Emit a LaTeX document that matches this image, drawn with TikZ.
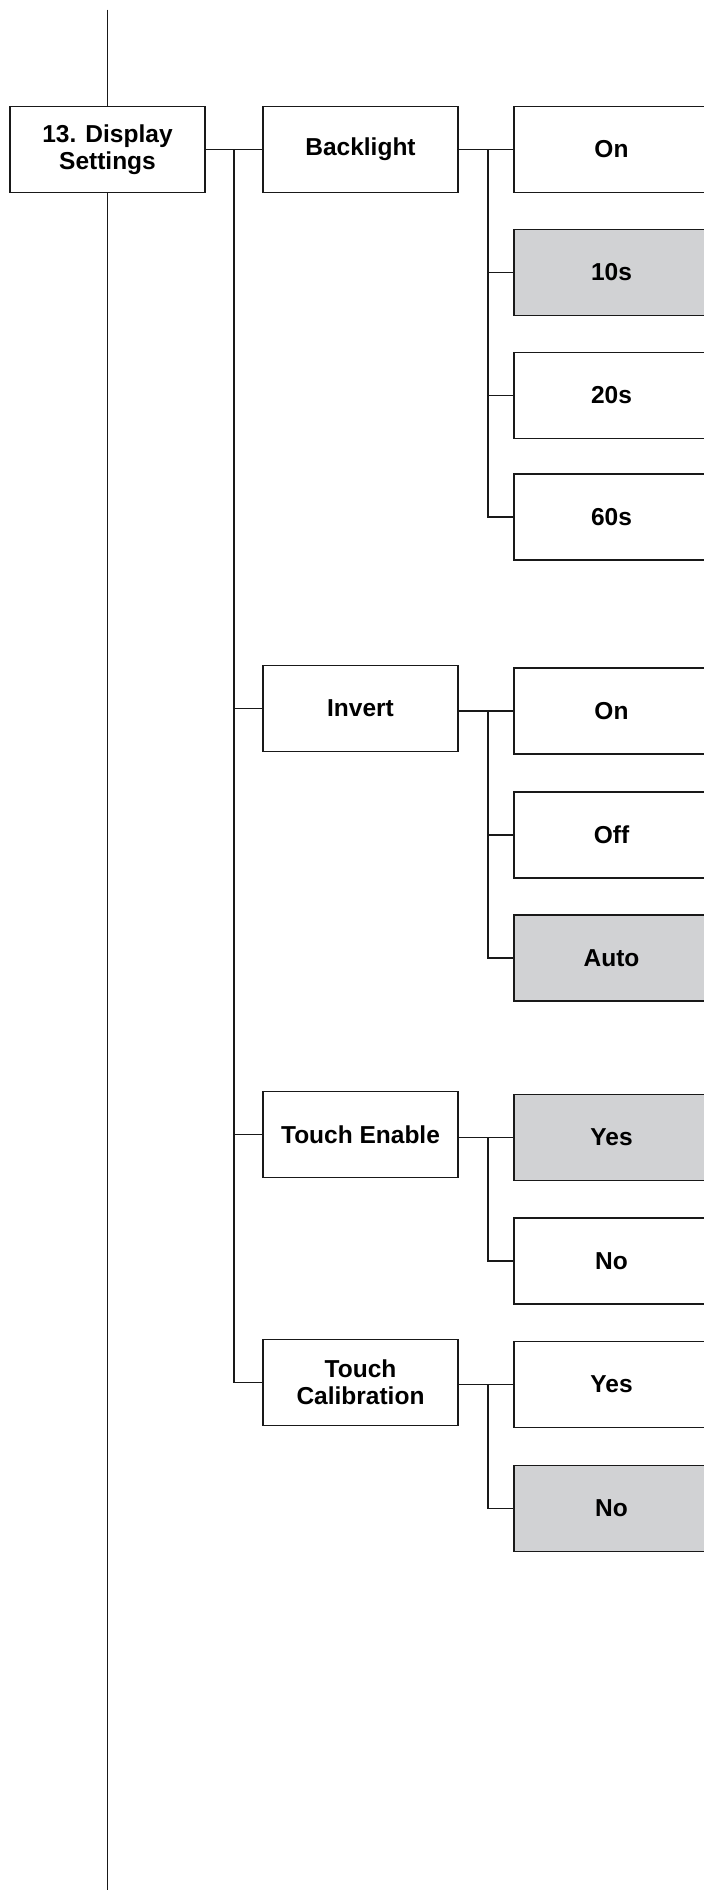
\documentclass[tikz,border=0pt]{standalone}
\usepackage{fontspec}
\setmainfont{Liberation Sans}
\usetikzlibrary{positioning}
\definecolor{selgray}{HTML}{D1D2D4}
\tikzset{
  menubox/.style={draw=black!90, line width=1.7pt, rectangle, minimum width=195pt,
    minimum height=86pt, inner sep=0pt, align=center,
    font=\bfseries\fontsize{24.5}{27}\selectfont},
  selbox/.style={menubox, fill=selgray},
  link/.style={draw=black!90, line width=1.7pt}
}
\begin{document}
\begin{tikzpicture}[x=1pt,y=1pt]
\useasboundingbox (0,0) rectangle (704,-1890);
% main menu entry
\node [menubox] (disp) at (107.5,-149.5) {13. Display\\Settings};
\coordinate (top) at (107.5,-9.5);
\coordinate (bot) at (107.5,-1890);
\draw [link] (top) -- (disp.north);
\draw [link] (disp.south) -- (bot);
% sub menus
\node [menubox] (back) at (360.5,-149.5) {Backlight};
\node [menubox] (inv) at (360.5,-708.5) {Invert};
\node [menubox] (tena) at (360.5,-1134.5) {Touch Enable};
\node [menubox] (tcal) at (360.5,-1382.5) {Touch\\Calibration};
% backlight options
\node [menubox] (bon) at (611.5,-149.5) {On};
\node [selbox] (b10) at (611.5,-272.5) {10s};
\node [menubox] (b20) at (611.5,-395.5) {20s};
\node [menubox] (b60) at (611.5,-517) {60s};
% invert options
\node [menubox] (ion) at (611.5,-711) {On};
\node [menubox] (ioff) at (611.5,-835) {Off};
\node [selbox] (iauto) at (611.5,-958) {Auto};
% touch enable options
\node [selbox] (tyes) at (611.5,-1137.5) {Yes};
\node [menubox] (tno) at (611.5,-1261) {No};
% touch calibration options
\node [menubox] (cyes) at (611.5,-1384.5) {Yes};
\node [selbox] (cno) at (611.5,-1508.5) {No};
% trunk lines
\coordinate (ta) at (234,0);
\coordinate (tb) at (488,0);
\draw [link] (disp.east) -- (back.west);
\draw [link] (ta |- disp.east) -- (ta |- tcal.west) -- (tcal.west);
\draw [link] (ta |- inv.west) -- (inv.west);
\draw [link] (ta |- tena.west) -- (tena.west);
% backlight branches
\draw [link] (back.east |- bon.west) -- (bon.west);
\draw [link] (tb |- bon.west) -- (tb |- b60.west) -- (b60.west);
\draw [link] (tb |- b10.west) -- (b10.west);
\draw [link] (tb |- b20.west) -- (b20.west);
% invert branches
\draw [link] (inv.east |- ion.west) -- (ion.west);
\draw [link] (tb |- ion.west) -- (tb |- iauto.west) -- (iauto.west);
\draw [link] (tb |- ioff.west) -- (ioff.west);
% touch enable branches
\draw [link] (tena.east |- tyes.west) -- (tyes.west);
\draw [link] (tb |- tyes.west) -- (tb |- tno.west) -- (tno.west);
% touch calibration branches
\draw [link] (tcal.east |- cyes.west) -- (cyes.west);
\draw [link] (tb |- cyes.west) -- (tb |- cno.west) -- (cno.west);
\end{tikzpicture}
\end{document}
